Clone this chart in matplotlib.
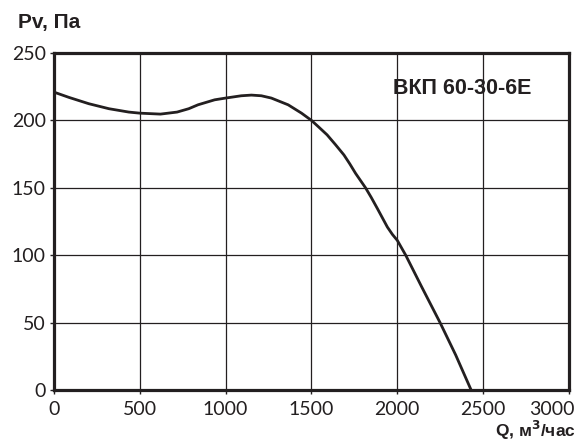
import matplotlib.pyplot as plt
import matplotlib.transforms as mtransforms

# характеристика вентилятора
q = [0, 87, 203, 320, 436, 500, 620, 717, 785, 839, 936, 1000, 1091, 1150, 1208,
     1266, 1364, 1442, 1500, 1543, 1591, 1640, 1689, 1723, 1757, 1815, 1848, 1884,
     1942, 1971, 2000, 2049, 2140, 2249, 2340, 2430]
pv = [221, 217.1, 212.4, 208.7, 206.2, 205.4, 204.7, 206.2, 208.7, 211.6, 215.3, 216.6,
      218.3, 218.8, 218.3, 216.6, 211.6, 205.4, 200, 195, 189.3, 182, 174.4, 167.8,
      160.7, 150, 142.9, 134.6, 120.9, 115.5, 111, 100, 77, 50, 26, 0]

xticks = [0, 500, 1000, 1500, 2000, 2500, 3000]
yticks = [0, 50, 100, 150, 200, 250]
model = 'ВКП 60-30-6E'

plt.rcParams['font.family'] = ['Lato', 'DejaVu Sans']
ink = '#231f20'
bold = dict(family=['Liberation Sans', 'DejaVu Sans'], fontweight='bold', color=ink)

fig = plt.figure(figsize=(5.78, 4.42), dpi=100, facecolor='white')
ax = fig.add_axes([0.0934, 0.1176, 0.891, 0.7624])

ax.plot(q, pv, color=ink, lw=2.0, solid_joinstyle='round', zorder=3)

ax.set_xlim(0, 3000)
ax.set_ylim(0, 250)
ax.set_xticks(xticks)
ax.set_yticks(yticks)
ax.set_xticklabels([str(t) for t in xticks])
ax.set_yticklabels([str(t) for t in yticks])
ax.grid(True, color=ink, lw=0.9)
ax.set_axisbelow(True)
for s in ax.spines.values():
    s.set_linewidth(2.3)
    s.set_color(ink)
    s.set_zorder(4)
ax.tick_params(direction='out', length=3, width=1.0, color=ink,
               labelsize=14, labelcolor=ink)
ax.tick_params(axis='x', pad=5)
ax.tick_params(axis='y', pad=3)

# последнюю подпись сдвигаем влево, чтобы не вылезала за край
lab = ax.get_xticklabels()[-1]
lab.set_horizontalalignment('right')
lab.set_transform(lab.get_transform() + mtransforms.ScaledTranslation(6 / 100, 0, fig.dpi_scale_trans))

fig.text(0.031, 0.948, 'Pv, Па', fontsize=15, va='center', **bold)
fig.text(0.9965, 0.025, 'Q, м$^\\mathbf{3}$/час', fontsize=12.5, ha='right', va='center', **bold)
fig.text(0.920, 0.799, model, fontsize=15.5, ha='right', va='center', **bold)

fig.savefig('out.png', dpi=100)
